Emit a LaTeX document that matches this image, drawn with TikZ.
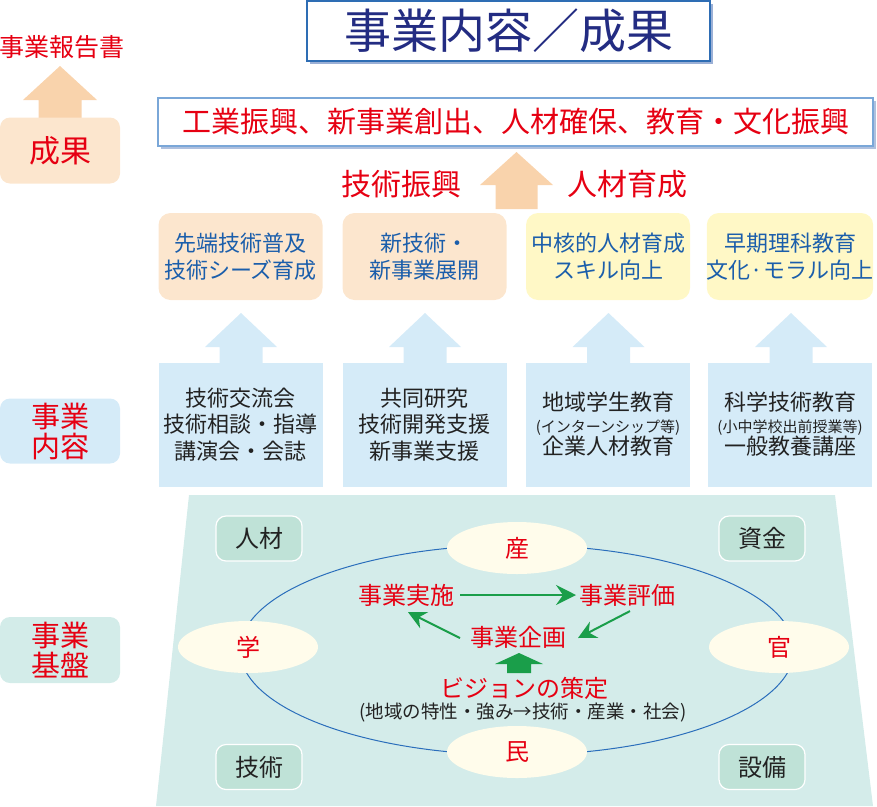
\documentclass[tikz,border=0pt]{standalone}
\usepackage{fontspec}
\setmainfont{Noto Sans CJK JP}
\usetikzlibrary{calc,arrows.meta,shapes.geometric,shadows}
\definecolor{redtxt}{HTML}{E60012}
\definecolor{ttltxt}{HTML}{232C82}
\definecolor{ttlborder}{HTML}{2E6DB4}
\definecolor{resborder}{HTML}{7AA7D8}
\definecolor{shadowblue}{HTML}{9BB0D6}
\definecolor{peachArrow}{HTML}{F9D3AC}
\definecolor{peachBox}{HTML}{FCE6CE}
\definecolor{yellowBox}{HTML}{FFF8C6}
\definecolor{blueBox}{HTML}{D5EBF8}
\definecolor{bluetxt}{HTML}{1B5EAB}
\definecolor{tealLbl}{HTML}{D3ECE9}
\definecolor{trap}{HTML}{D4ECEA}
\definecolor{cornerBox}{HTML}{BFE2D7}
\definecolor{ovalFill}{HTML}{FFFCEB}
\definecolor{ringblue}{HTML}{2A6EBB}
\definecolor{gr}{HTML}{1A9E4A}
\definecolor{darktxt}{HTML}{222222}
\newcommand\fsize[2]{\fontsize{#1}{#2}\selectfont}
\newcommand\upblock[7]{%
  \fill[#7] (#1,#2) -- ({#1+#5},#3) -- ({#1+#6},#3) -- ({#1+#6},#4) -- ({#1-#6},#4) -- ({#1-#6},#3) -- ({#1-#5},#3) -- cycle;}
\begin{document}
\begin{tikzpicture}[x=1pt,y=-1pt,
  every node/.style={inner sep=0pt,outer sep=0pt},
  lbl/.style={rounded corners=10pt,minimum width=120pt,minimum height=65pt,align=center,text=redtxt,font=\fsize{29}{30}},
  topbox/.style={rounded corners=12pt,minimum width=164pt,minimum height=87pt,align=center,text=bluetxt,font=\fsize{22}{27}},
  bluebox/.style={fill=blueBox,minimum width=164pt,minimum height=124pt,align=center,text=darktxt,font=\fsize{22}{26.5}},
  corner/.style={fill=cornerBox,draw=white,line width=1.2pt,rounded corners=10pt,minimum width=86pt,minimum height=45pt,text=darktxt,font=\fsize{24}{24}},
  oval/.style={ellipse,fill=ovalFill,minimum width=140pt,minimum height=52pt,text=redtxt,font=\fsize{24}{24}},
  redlbl/.style={text=redtxt,font=\fsize{24}{24}},
  garr/.style={draw=gr,line width=2pt,-{Stealth[length=20pt,width=20pt,inset=7pt]}},
  garrs/.style={draw=gr,line width=2pt,-{Stealth[length=18pt,width=18pt,inset=6pt]}}
]
\useasboundingbox (0,0) rectangle (877,806);

% ---------- header ----------
\node[draw=ttlborder,line width=1.5pt,fill=white,minimum width=403pt,minimum height=60pt,
  drop shadow={shadow xshift=3pt,shadow yshift=-3pt,fill=shadowblue,opacity=1},
  text=ttltxt,font=\fsize{47}{47}] (title) at (508.5,31) {事業内容／成果};

\node[draw=resborder,line width=1.5pt,fill=white,minimum width=715pt,minimum height=48pt,
  drop shadow={shadow xshift=3pt,shadow yshift=-3pt,fill=shadowblue!80,opacity=1},
  text=redtxt,font=\fsize{29}{29}] (result) at (515.5,122) {工業振興、新事業創出、人材確保、教育・文化振興};

% left column
\node[text=redtxt,font=\fsize{25}{25}] (report) at (62,47) {事業報告書};
\upblock{60}{66}{100}{118}{37}{21.5}{peachArrow}
\node[lbl,fill=peachBox,minimum height=66pt,font=\fsize{31}{31}] (seika) at (60,150.5) {成果};
\node[lbl,fill=blueBox] (naiyo) at (60,431) {事業\\内容};
\node[lbl,fill=tealLbl,minimum height=66pt] (kiban) at (60,650) {事業\\基盤};

% middle arrow and labels
\upblock{516.5}{152}{185}{209}{36.5}{21}{peachArrow}
\node[text=redtxt,font=\fsize{30}{30}] (gijutsu) at (401,184) {技術振興};
\node[text=redtxt,font=\fsize{30}{30}] (jinzai) at (627,184) {人材育成};

% ---------- outcome boxes ----------
\node[topbox,fill=peachBox] (o1) at (240.5,256.5) {先端技術普及\\技術シーズ育成};
\node[topbox,fill=peachBox] (o2) at (424.5,256.5) {新技術・\\新事業展開};
\node[topbox,fill=yellowBox] (o3) at (608,256.5) {中核的人材育成\\スキル向上};
\node[topbox,fill=yellowBox] (o4) at (790,256.5) {早期理科教育\\文化·モラル向上};

% blue arrows
\upblock{241}{313}{347}{363}{36}{21.5}{blueBox}
\upblock{425}{313}{347}{363}{36}{21.5}{blueBox}
\upblock{608.5}{313}{347}{363}{36}{21.5}{blueBox}
\upblock{791}{313}{347}{363}{36}{21.5}{blueBox}

% ---------- activity boxes ----------
\node[bluebox] (a1) at (240.5,424.5) {技術交流会\\技術相談・指導\\講演会・会誌};
\node[bluebox] (a2) at (424.5,424.5) {共同研究\\技術開発支援\\新事業支援};
\node[bluebox,font=\fsize{22}{22}] (a3) at (608,424.5) {地域学生教育\\{\fsize{15}{22}(インターンシップ等)}\\企業人材教育};
\node[bluebox,font=\fsize{22}{22}] (a4) at (790,424.5) {科学技術教育\\{\fsize{15}{22}(小中学校出前授業等)}\\一般教養講座};

% ---------- foundation ----------
\fill[trap] (189,495) -- (835,495) -- (873,806) -- (156,806) -- cycle;
\node[ellipse,draw=ringblue,line width=1pt,minimum width=554pt,minimum height=210pt] (ring) at (517,650) {};

\node[corner] (c1) at (259,538.5) {人材};
\node[corner] (c2) at (762,538.5) {資金};
\node[corner] (c3) at (259,767) {技術};
\node[corner] (c4) at (762,767) {設備};

\node[oval] (san) at (517,548) {産};
\node[oval] (gaku) at (248,647) {学};
\node[oval] (kan) at (779,647) {官};
\node[oval] (min) at (517,752) {民};

\node[redlbl] (impl) at (406,595) {事業実施};
\node[redlbl] (eval) at (627,595) {事業評価};
\node[redlbl] (plan) at (518,637) {事業企画};

\draw[garr,shorten <=6pt,shorten >=3pt] (impl.east) -- (eval.west);
\draw[garrs] ($(plan.west)+(-10,1)$) -- ($(impl.south)+(2,6)$);
\draw[garrs] ($(eval.south)+(3,5)$) -- ($(plan.east)+(12,1)$);

\upblock{519}{653}{664}{673}{24}{12}{gr}

\node[redlbl] (vision) at (524,688) {ビジョンの策定};
\node[text=darktxt,font=\fsize{18.5}{18.5}] (visionsub) at (523,713) {(地域の特性・強み→技術・産業・社会)};
\end{tikzpicture}
\end{document}
